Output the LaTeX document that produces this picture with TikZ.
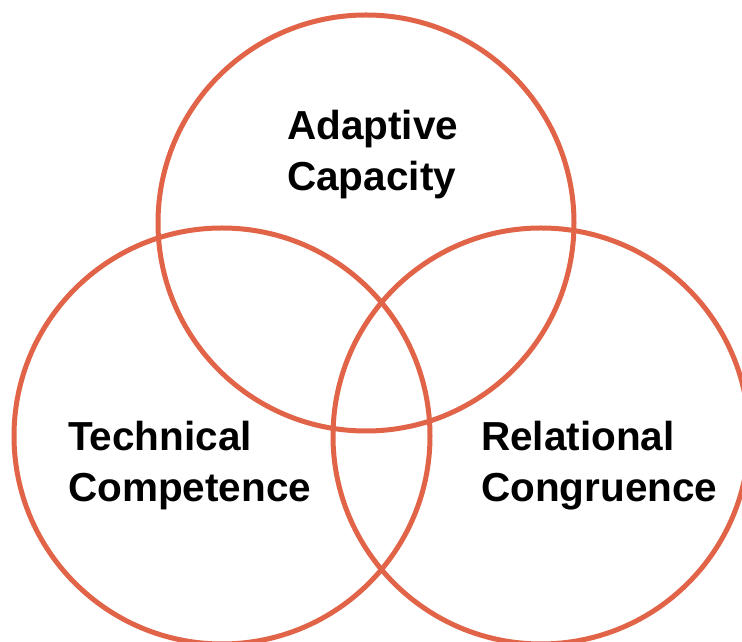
\documentclass[tikz,border=0pt]{standalone}
\usepackage{fontspec}
\setmainfont{Liberation Sans}
\definecolor{vennred}{RGB}{225,100,72}

\begin{document}
\begin{tikzpicture}[x=1pt,y=1pt,
  venn/.style={draw=vennred,line width=5pt},
  lbl/.style={anchor=base west,align=left,inner sep=0pt,font=\fontsize{40.5}{51}\selectfont\bfseries}]
\useasboundingbox (0,0) rectangle (742,642);
\draw[venn] (366,419) circle (208);
\draw[venn] (222,206) circle (208);
\draw[venn] (541,206) circle (208);

\node[lbl] (adaptive) at (287,451) {Adaptive\\Capacity};
\node[lbl] (technical) at (68,140) {Technical\\Competence};
\node[lbl] (relational) at (481,140) {Relational\\Congruence};
\end{tikzpicture}
\end{document}
